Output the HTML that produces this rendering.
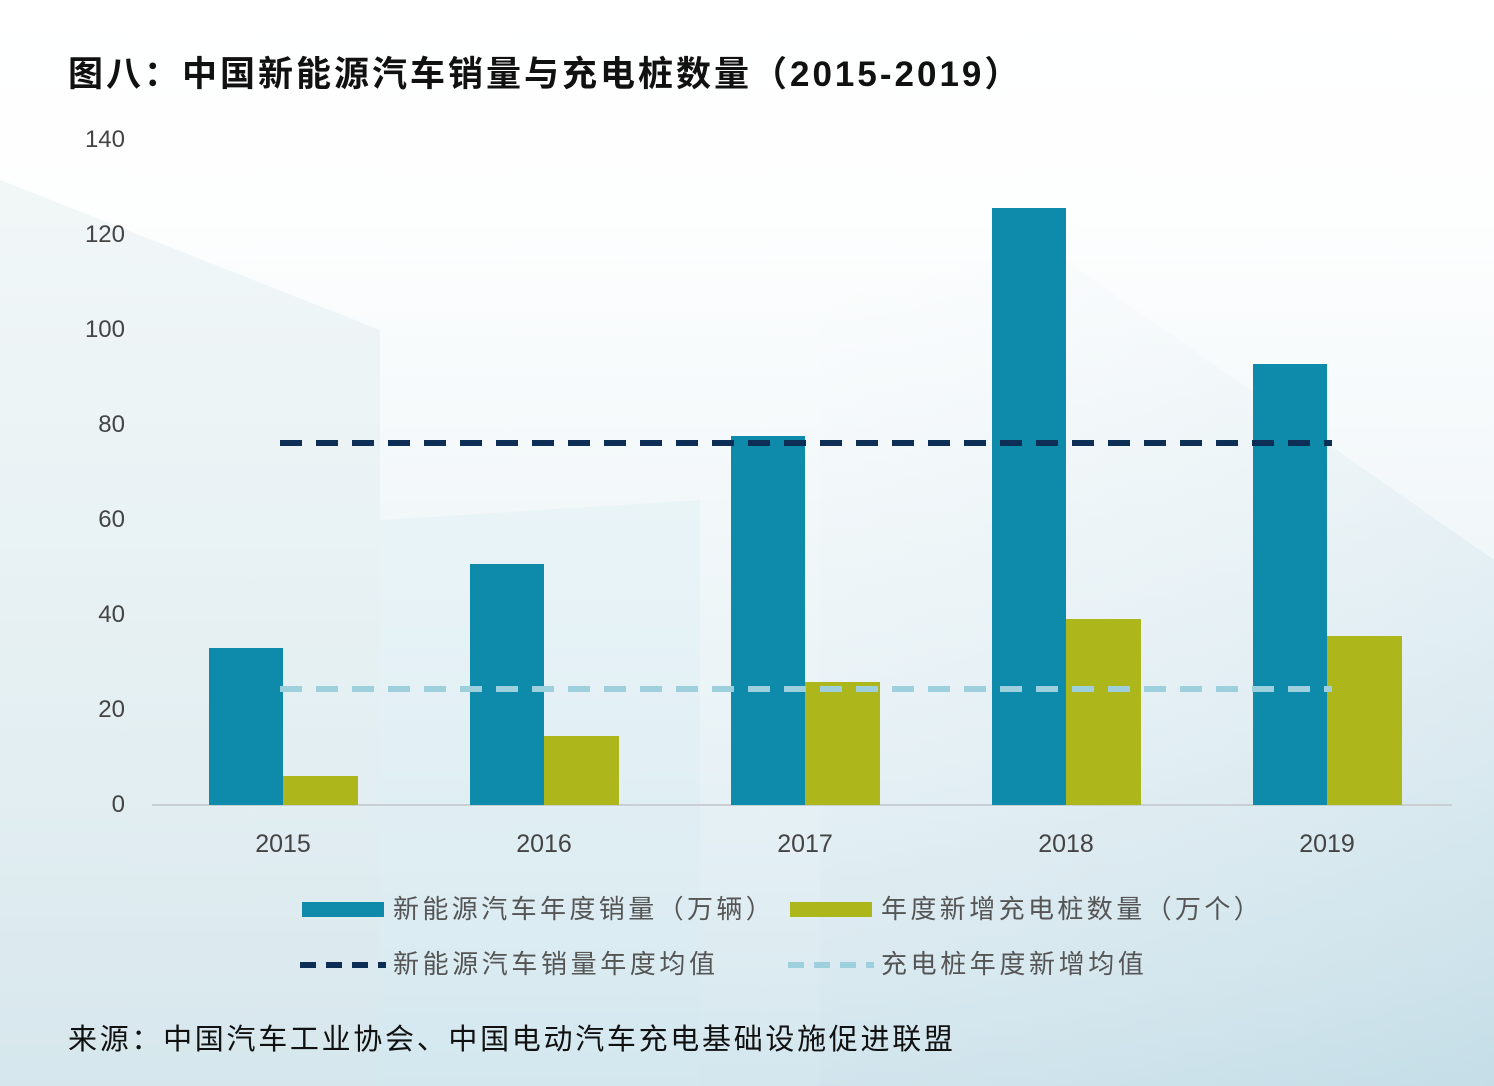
<!DOCTYPE html>
<html><head><meta charset="utf-8"><style>
body{margin:0;}
#c{position:relative;width:1494px;height:1086px;overflow:hidden;
background:linear-gradient(180deg,#ffffff 0%,#fdfefe 20%,#f3f8fa 45%,#e8f2f6 70%,#dcebf1 90%,#d3e6ee 100%);
font-family:"Liberation Sans","Noto Sans CJK SC",sans-serif;}
</style></head><body><div id="c">
<svg width="1494" height="1086" style="position:absolute;left:0;top:0">
<defs>
<linearGradient id="b" x1="0" y1="0" x2="1" y2="1">
<stop offset="0" stop-color="#e4eef3" stop-opacity="0.0"/>
<stop offset="1" stop-color="#a9cddb" stop-opacity="0.35"/>
</linearGradient>
</defs>
<polygon points="0,180 380,330 380,1086 0,1086" fill="#dbe7ec" opacity="0.35"/>
<polygon points="820,300 1050,250 1494,560 1494,1086 820,1086" fill="url(#b)"/>
<polygon points="380,520 700,500 700,1086 380,1086" fill="#d5eaf1" opacity="0.3"/>
<g font-family="Liberation Sans, Noto Sans CJK SC, sans-serif">
<text x="68" y="86" font-size="35" font-weight="bold" fill="#111" letter-spacing="3">图八：中国新能源汽车销量与充电桩数量（2015-2019）</text>
<g font-size="24" fill="#444" text-anchor="end">
<text x="125" y="147">140</text><text x="125" y="242">120</text><text x="125" y="337">100</text>
<text x="125" y="432">80</text><text x="125" y="527">60</text><text x="125" y="622">40</text>
<text x="125" y="717">20</text><text x="125" y="812">0</text>
</g>
<line x1="152" y1="805" x2="1452" y2="805" stroke="#c8d0d4" stroke-width="2"/>
<g fill="#0e8aab">
<rect x="209" y="648" width="74" height="157"/><rect x="470" y="564" width="74" height="241"/>
<rect x="731" y="436" width="74" height="369"/><rect x="992" y="208" width="74" height="597"/>
<rect x="1253" y="364" width="74" height="441"/>
</g>
<g fill="#adb61b">
<rect x="283" y="776" width="75" height="29"/><rect x="544" y="736" width="75" height="69"/>
<rect x="805" y="682" width="75" height="123"/><rect x="1066" y="619" width="75" height="186"/>
<rect x="1327" y="636" width="75" height="169"/>
</g>
<line x1="280" y1="443" x2="1332" y2="443" stroke="#0d2f55" stroke-width="6" stroke-dasharray="22,14"/>
<line x1="280" y1="689" x2="1332" y2="689" stroke="#9dd0dc" stroke-width="6" stroke-dasharray="22,14"/>
<g font-size="25" fill="#444" text-anchor="middle">
<text x="283" y="852">2015</text><text x="544" y="852">2016</text><text x="805" y="852">2017</text>
<text x="1066" y="852">2018</text><text x="1327" y="852">2019</text>
</g>
<rect x="302" y="902" width="82" height="15" fill="#0e8aab"/>
<text x="393" y="918" font-size="26" fill="#555" letter-spacing="3.4">新能源汽车年度销量（万辆）</text>
<rect x="790" y="902" width="82" height="15" fill="#adb61b"/>
<text x="881" y="918" font-size="26" fill="#555" letter-spacing="3.4">年度新增充电桩数量（万个）</text>
<line x1="300" y1="965" x2="386" y2="965" stroke="#0d2f55" stroke-width="6" stroke-dasharray="16,10"/>
<text x="393" y="973" font-size="26" fill="#555" letter-spacing="3.6">新能源汽车销量年度均值</text>
<line x1="788" y1="965" x2="874" y2="965" stroke="#9dd0dc" stroke-width="6" stroke-dasharray="16,10"/>
<text x="881" y="973" font-size="26" fill="#555" letter-spacing="3.6">充电桩年度新增均值</text>
<text x="68" y="1049" font-size="29" fill="#111" letter-spacing="2.7">来源：中国汽车工业协会、中国电动汽车充电基础设施促进联盟</text>
</g>
</svg>
</div></body></html>
